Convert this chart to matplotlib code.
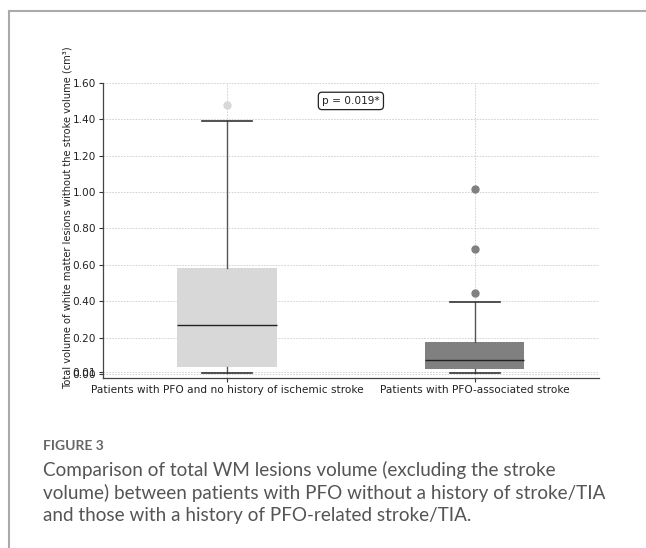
import matplotlib
matplotlib.use("Agg")
import matplotlib.pyplot as plt
from matplotlib.lines import Line2D

groups = ["Patients with PFO and no history of ischemic stroke",
          "Patients with PFO-associated stroke"]
q1 = [0.042, 0.029]
medians = [0.269, 0.077]
q3 = [0.582, 0.176]
whislo = [0.005, 0.005]
whishi = [1.39, 0.399]
outliers = [[1.48], [1.018, 0.688, 0.448]]
box_colors = ["#d8d8d8", "#808080"]
yticks = [0.00, 0.01, 0.20, 0.40, 0.60, 0.80, 1.00, 1.20, 1.40, 1.60]
p_text = "p = 0.019*"

fig = plt.figure(figsize=(6.46, 5.48), dpi=100)
ax = fig.add_axes([0.1594, 0.3097, 0.7676, 0.5394])

stats = []
for i in range(len(groups)):
    stats.append(dict(q1=q1[i], med=medians[i], q3=q3[i], whislo=whislo[i],
                      whishi=whishi[i], fliers=outliers[i], label=groups[i]))

for i, s in enumerate(stats):
    ax.bxp([s], positions=[i], widths=0.4, patch_artist=True,
           boxprops=dict(facecolor=box_colors[i], edgecolor=box_colors[i], linewidth=0),
           medianprops=dict(color="#222222", linewidth=1.0),
           whiskerprops=dict(color="#555555", linewidth=1.0),
           capprops=dict(color="#333333", linewidth=1.2),
           flierprops=dict(marker="o", markerfacecolor=box_colors[i],
                           markeredgecolor=box_colors[i], markersize=5))

ax.set_xlim(-0.5, 1.5)
ax.set_ylim(-0.022, 1.60)
ax.set_xticks(range(len(groups)))
ax.set_xticklabels(groups, fontsize=7.6, color="#222222")
ax.set_yticks(yticks)
ax.set_yticklabels(["%.2f" % v for v in yticks], fontsize=7.6, color="#222222")
ax.tick_params(length=3, width=0.8, colors="#333333", pad=2)
ax.tick_params(labelcolor="#222222")
ax.grid(True, color="#cccccc", linestyle=(0, (2, 1.5)), linewidth=0.6)
ax.set_axisbelow(True)
for side in ["top", "right"]:
    ax.spines[side].set_visible(False)
for side in ["left", "bottom"]:
    ax.spines[side].set_color("#444444")
    ax.spines[side].set_linewidth(0.9)

ax.text(0.5, 1.50, p_text, ha="center", va="center", fontsize=7.6, color="#222222",
        bbox=dict(boxstyle="round,pad=0.35", facecolor="white", edgecolor="#222222", linewidth=0.9))

fig.text(68 / 646, 1 - 217.5 / 548,
         "Total volume of white matter lesions without the stroke volume (cm³)",
         rotation=90, ha="center", va="center", fontsize=7.1, color="#222222")

# page frame
fig.add_artist(Line2D([9 / 646, 1], [1 - 11 / 548, 1 - 11 / 548], color="#aaaaaa", linewidth=1.5))
fig.add_artist(Line2D([9 / 646, 9 / 646], [0, 1 - 11 / 548], color="#aaaaaa", linewidth=1.5))

fig.text(43 / 646, 1 - 446 / 548, "FIGURE 3", fontsize=10, color="#666666",
         family="Lato", fontweight="bold", va="center")
caption = ["Comparison of total WM lesions volume (excluding the stroke",
           "volume) between patients with PFO without a history of stroke/TIA",
           "and those with a history of PFO-related stroke/TIA."]
for k, line in enumerate(caption):
    fig.text(43 / 646, 1 - (470 + 23 * k) / 548, line, fontsize=13.6, color="#555555",
             family="Lato", fontweight="normal", va="center")

fig.savefig("out.png", dpi=100)
